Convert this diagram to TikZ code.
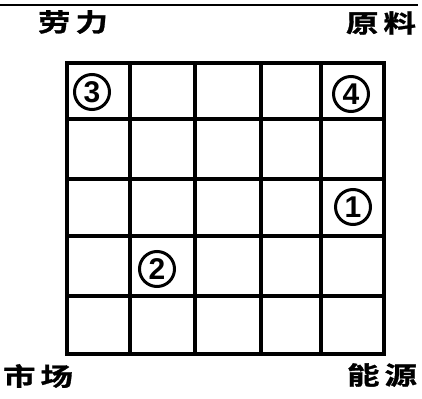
\documentclass[tikz,border=0pt]{standalone}
\usepackage{fontspec}
\newfontfamily\cjkfont[FakeStretch=1.3,FakeBold=1.2]{Noto Sans CJK SC Bold}
\newfontfamily\numfont{Liberation Sans}
\begin{document}
\begin{tikzpicture}[x=1pt,y=-1pt,
  gridline/.style={line width=4.5pt, line cap=rect},
  topline/.style={line width=2.5pt},
  lbl/.style={font=\cjkfont\fontsize{25}{25}\selectfont, inner sep=0pt},
  num/.style={circle, draw, line width=3pt, minimum size=35pt, inner sep=0pt,
    font=\numfont\bfseries\fontsize{30}{30}\selectfont}]
\useasboundingbox (0,0) rectangle (422,398);
% top rule
\coordinate (tl) at (0,5);
\coordinate (tr) at (418,5);
\draw[topline] (tl) -- (tr);
% grid
\foreach \x in {67,130,195,261,321,384} \draw[gridline] (\x,63) -- (\x,354);
\foreach \y in {63,119,179,236,296,354} \draw[gridline] (67,\y) -- (384,\y);
% corner labels
\node[lbl] (labor) at (73,22) {劳\hspace{5pt}力};
\node[lbl] (raw) at (381,23) {原\hspace{5pt}料};
\node[lbl] (market) at (38,376) {市\hspace{5pt}场};
\node[lbl] (energy) at (382,375) {能\hspace{5pt}源};
% circled numbers
\node[num] (n3) at (92,92) {3};
\node[num] (n4) at (351,94) {4};
\node[num] (n1) at (353,207) {1};
\node[num] (n2) at (157,269) {2};
\end{tikzpicture}
\end{document}
